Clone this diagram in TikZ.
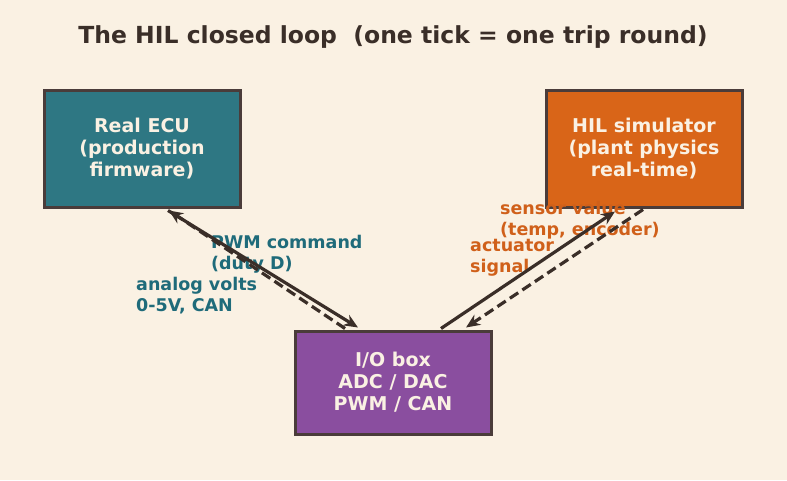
\documentclass[tikz,border=0pt]{standalone}
\usepackage{fontspec}
\setmainfont{DejaVu Sans}
\usetikzlibrary{arrows.meta, positioning}
\definecolor{bgcream}{HTML}{FAF1E3}
\definecolor{ecuteal}{HTML}{2E7783}
\definecolor{simorange}{HTML}{D96518}
\definecolor{iopurple}{HTML}{8A4E9F}
\definecolor{edgebrown}{HTML}{4A3C3A}
\definecolor{wirebrown}{HTML}{3A2E28}
\definecolor{labelteal}{HTML}{1F6B7A}
\definecolor{labelorange}{HTML}{D0601A}
\tikzstyle{block} = [
    rectangle,
    minimum width=196,
    minimum height=117,
    align=center,
    draw=edgebrown,
    line width=3pt,
    text=bgcream,
    font=\fontsize{19}{22}\selectfont\bfseries
]
\tikzstyle{sig} = [
    inner sep=0,
    anchor=west,
    align=left,
    font=\fontsize{17.5}{21}\selectfont\bfseries
]
\tikzstyle{wire} = [line width=3.2pt, draw=wirebrown, -{Stealth[length=14pt,width=12pt]}]
\tikzstyle{wireback} = [wire, dash pattern=on 10pt off 5pt]

\begin{document}
\begin{tikzpicture}[x=1pt, y=-1pt]

\fill[bgcream] (0,0) rectangle (787,480);
\useasboundingbox (0,0) rectangle (787,480);

% Nodes
\node (title) at (393,37) [text=wirebrown, font=\fontsize{23.5}{27}\selectfont\bfseries] {The HIL closed loop\ \ (one tick = one trip round)};
\node (ecu) at (142,148.5) [block, fill=ecuteal] {Real ECU\\(production\\firmware)};
\node (sim) at (644,148.5) [block, fill=simorange] {HIL simulator\\(plant physics\\real-time)};
\node (iobox) at (393,382.5) [block, fill=iopurple, minimum height=103] {I/O box\\ADC / DAC\\PWM / CAN};

\node (pwmlabel) at (211,254.5) [sig, text=labelteal] {PWM command\\(duty D)};
\node (voltlabel) at (136,295.5) [sig, text=labelteal] {analog volts\\0-5V, CAN};
\node (sensorlabel) at (500,220.5) [sig, text=labelorange] {sensor value\\(temp, encoder)};
\node (actlabel) at (470,258) [sig, text=labelorange] {actuator\\signal};

% Arrows
\draw [wire] ([xshift=26pt,yshift=-2pt]ecu.south) -- ([xshift=-35pt,yshift=2pt]iobox.north);
\draw [wireback] ([xshift=-48pt,yshift=1pt]iobox.north) -- ([xshift=27pt,yshift=-2pt]ecu.south);
\draw [wire] ([xshift=48pt,yshift=1pt]iobox.north) -- ([xshift=-29pt,yshift=-3pt]sim.south);
\draw [wireback] ([xshift=-1pt,yshift=-1pt]sim.south) -- ([xshift=73pt,yshift=2pt]iobox.north);

\end{tikzpicture}
\end{document}
